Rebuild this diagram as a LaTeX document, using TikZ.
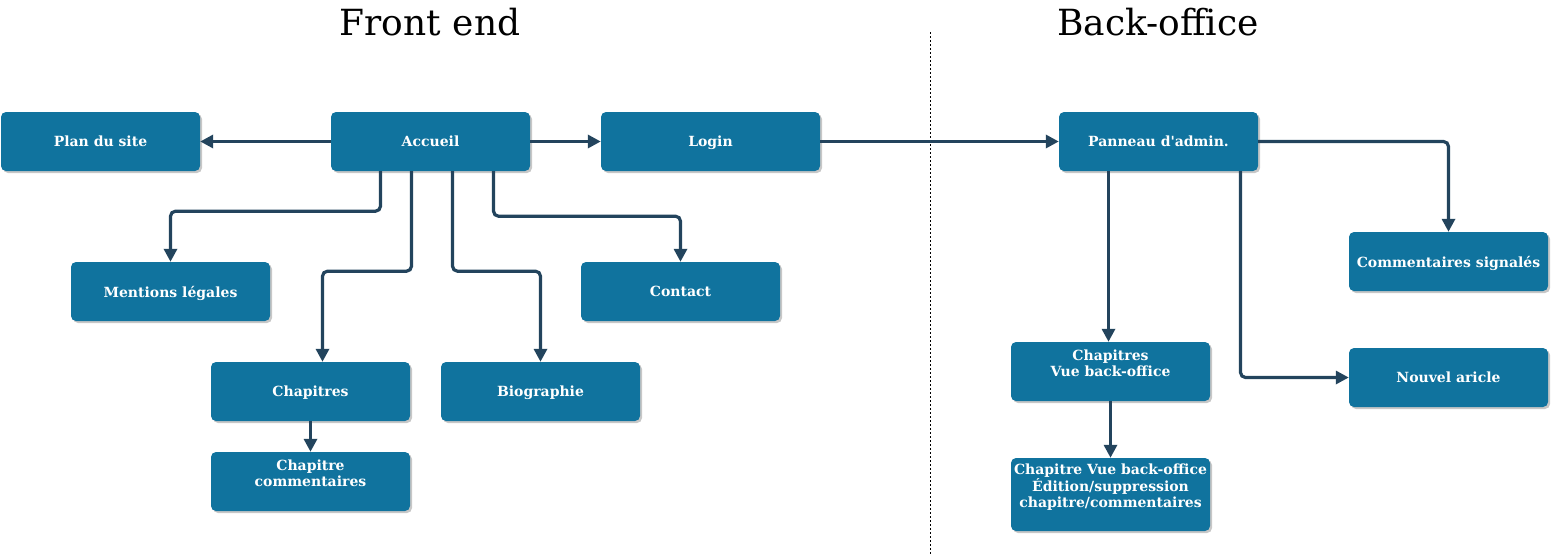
\documentclass[tikz,border=0pt]{standalone}
\usepackage{fontspec}
\setmainfont{DejaVu Serif}
\usetikzlibrary{arrows.meta,shadows}
\definecolor{boxblue}{HTML}{10739E}
\definecolor{linkblue}{HTML}{23445D}
\tikzstyle{page}=[rectangle,rounded corners=5pt,fill=boxblue,text=white,font=\bfseries\fontsize{14}{16.5}\selectfont,minimum width=199pt,minimum height=59pt,inner sep=0pt,align=center,text depth=0pt,drop shadow={shadow xshift=2pt,shadow yshift=-2pt,fill=black!22,opacity=1}]
\tikzstyle{wide}=[page,minimum width=219pt]
\tikzstyle{multi}=[page,text depth=17pt]
\tikzstyle{link}=[draw=linkblue,line width=3.2pt,-{Triangle[length=13pt,width=13pt,fill=linkblue]},rounded corners=5pt]
\tikzstyle{title}=[font=\fontsize{36}{42}\selectfont]

\begin{document}
\begin{tikzpicture}[x=1pt,y=-1pt]
                    \useasboundingbox (0,0) rectangle (1552,554);

                    \node (front) at (430,22) [title] {Front end};
                    \node (back) at (1158,22) [title] {Back-office};
                    \draw [dash pattern=on 2pt off 2pt,line width=0.6pt] (930,32) -- (930,554);

                    \node (plan) at (100.5,141.5) [page] {Plan du site};
                    \node (accueil) at (430.5,141.5) [page] {Accueil};
                    \node (login) at (710.5,141.5) [wide] {Login};
                    \node (panneau) at (1158.5,141.5) [page] {Panneau d\textquotesingle admin.};

                    \node (mentions) at (170.5,291.5) [page] {Mentions légales};
                    \node (contact) at (680.5,291.5) [page] {Contact};
                    \node (chapitres) at (310.5,391.5) [page] {Chapitres};
                    \node (bio) at (540.5,391.5) [page] {Biographie};
                    \node (chapcom) at (310.5,481.5) [multi] {Chapitre\\commentaires};

                    \node (signales) at (1448.5,261.5) [page] {Commentaires signalés};
                    \node (chapvue) at (1110.5,371.5) [multi] {Chapitres\\Vue back-office};
                    \node (nouvel) at (1448.5,377.5) [page] {Nouvel aricle};
                    \node (chapedit) at (1110.5,494.5) [multi,minimum height=73pt] {Chapitre Vue back-office\\Édition/suppression\\chapitre/commentaires};

                    \draw [link] (accueil) -- (plan);
                    \draw [link] (accueil) -- (login);
                    \draw [link] (login) -- (panneau);
                    \draw [link] ([xshift=-50pt]accueil.south) -- ++(0,40) -| (mentions.north);
                    \draw [link] ([xshift=-19pt]accueil.south) -- ++(0,100) -| ([xshift=12pt]chapitres.north);
                    \draw [link] ([xshift=22pt]accueil.south) -- ++(0,100) -| (bio.north);
                    \draw [link] ([xshift=63pt]accueil.south) -- ++(0,45) -| (contact.north);
                    \draw [link] (chapitres) -- (chapcom);

                    \draw [link] (panneau) -| (signales);
                    \draw [link] ([xshift=-50pt]panneau.south) -- ([xshift=-50pt]panneau.south |- chapvue.north);
                    \draw [link] ([xshift=82pt]panneau.south) |- (nouvel);
                    \draw [link] (chapvue) -- (chapedit);
                \end{tikzpicture}
\end{document}
